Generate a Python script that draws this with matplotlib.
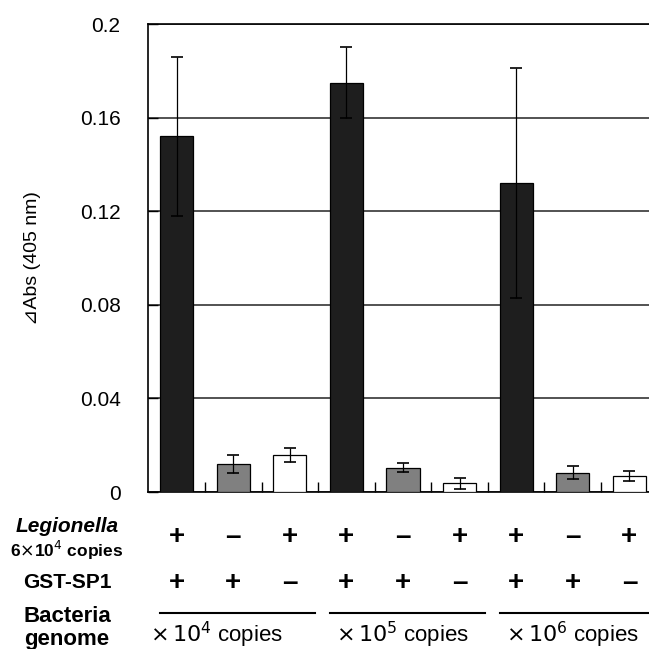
import matplotlib.pyplot as plt
from matplotlib.transforms import blended_transform_factory

plt.rcParams['font.family'] = ['Liberation Sans', 'DejaVu Sans']

# bar values
means = [0.152, 0.012, 0.016, 0.175, 0.0104, 0.0037, 0.132, 0.0082, 0.0067]
errors = [0.034, 0.004, 0.003, 0.015, 0.002, 0.0023, 0.049, 0.0027, 0.0022]
bar_colors = ['#1e1e1e', '#808080', 'white'] * 3
legionella = ['+', '\u2013', '+'] * 3
gst_sp1 = ['+', '+', '\u2013'] * 3
genome_labels = [r'$\times\,10^{4}$ copies', r'$\times\,10^{5}$ copies', r'$\times\,10^{6}$ copies']
yticks = [0, 0.04, 0.08, 0.12, 0.16, 0.2]
ytick_labels = ['0', '0.04', '0.08', '0.12', '0.16', '0.2']

fig = plt.figure(figsize=(6.49, 6.49), dpi=100)
H = 649.0
ax = fig.add_axes([148.3 / H, 1 - 492 / H, 509.4 / H, 468 / H])

x = list(range(len(means)))
ax.bar(x, means, width=0.59, color=bar_colors, edgecolor='black', linewidth=0.9, zorder=3)
ax.errorbar(x, means, yerr=errors, fmt='none', ecolor='black', elinewidth=0.9,
            capsize=4.2, capthick=1.2, zorder=4)

ax.set_xlim(-0.5, 8.5)
ax.set_ylim(0, 0.2)
ax.set_yticks(yticks)
ax.set_yticklabels(ytick_labels, fontsize=15)
ax.yaxis.grid(True, color='#444444', linewidth=1.3, zorder=0)
ax.set_axisbelow(True)
ax.tick_params(axis='y', direction='in', length=7, width=1, pad=20)

# small ticks between categories
ax.set_xticks([i + 0.5 for i in range(8)])
ax.set_xticklabels([])
ax.tick_params(axis='x', direction='in', length=7, width=1)

for s in ax.spines.values():
    s.set_linewidth(1.2)
ax.spines['right'].set_visible(False)

ax.set_ylabel('\u22bfAbs (405 nm)', fontsize=14, labelpad=12)
ax.yaxis.set_label_coords(-0.21, 0.5)

# condition table under the plot
tr = blended_transform_factory(ax.transData, fig.transFigure)
for i in x:
    fig.text(i, 1 - 537 / H, legionella[i], transform=tr, ha='center', va='center',
             fontsize=20, fontweight='bold')
    fig.text(i, 1 - 583 / H, gst_sp1[i], transform=tr, ha='center', va='center',
             fontsize=20, fontweight='bold')

line_y = -(613 - 492) / 2340.0
for g in range(3):
    ax.plot([3 * g - 0.29, 3 * g + 2.45], [line_y, line_y], color='black',
            linewidth=1.5, clip_on=False)
    fig.text(3 * g + 1 - (0.3 if g == 0 else 0), 1 - 635 / H, genome_labels[g],
             transform=tr, ha='center', va='center', fontsize=16)

fig.text(67 / H, 1 - 526 / H, 'Legionella', ha='center', va='center', fontsize=15,
         fontweight='bold', style='italic')
fig.text(67 / H, 1 - 550 / H, r'6$\times$10$^{4}$ copies', ha='center', va='center',
         fontsize=12.5, fontweight='bold')
fig.text(67 / H, 1 - 583 / H, 'GST-SP1', ha='center', va='center', fontsize=15,
         fontweight='bold')
fig.text(67 / H, 1 - 617 / H, 'Bacteria', ha='center', va='center', fontsize=16,
         fontweight='bold')
fig.text(67 / H, 1 - 639 / H, 'genome', ha='center', va='center', fontsize=16,
         fontweight='bold')

plt.savefig('out.png', dpi=100)
